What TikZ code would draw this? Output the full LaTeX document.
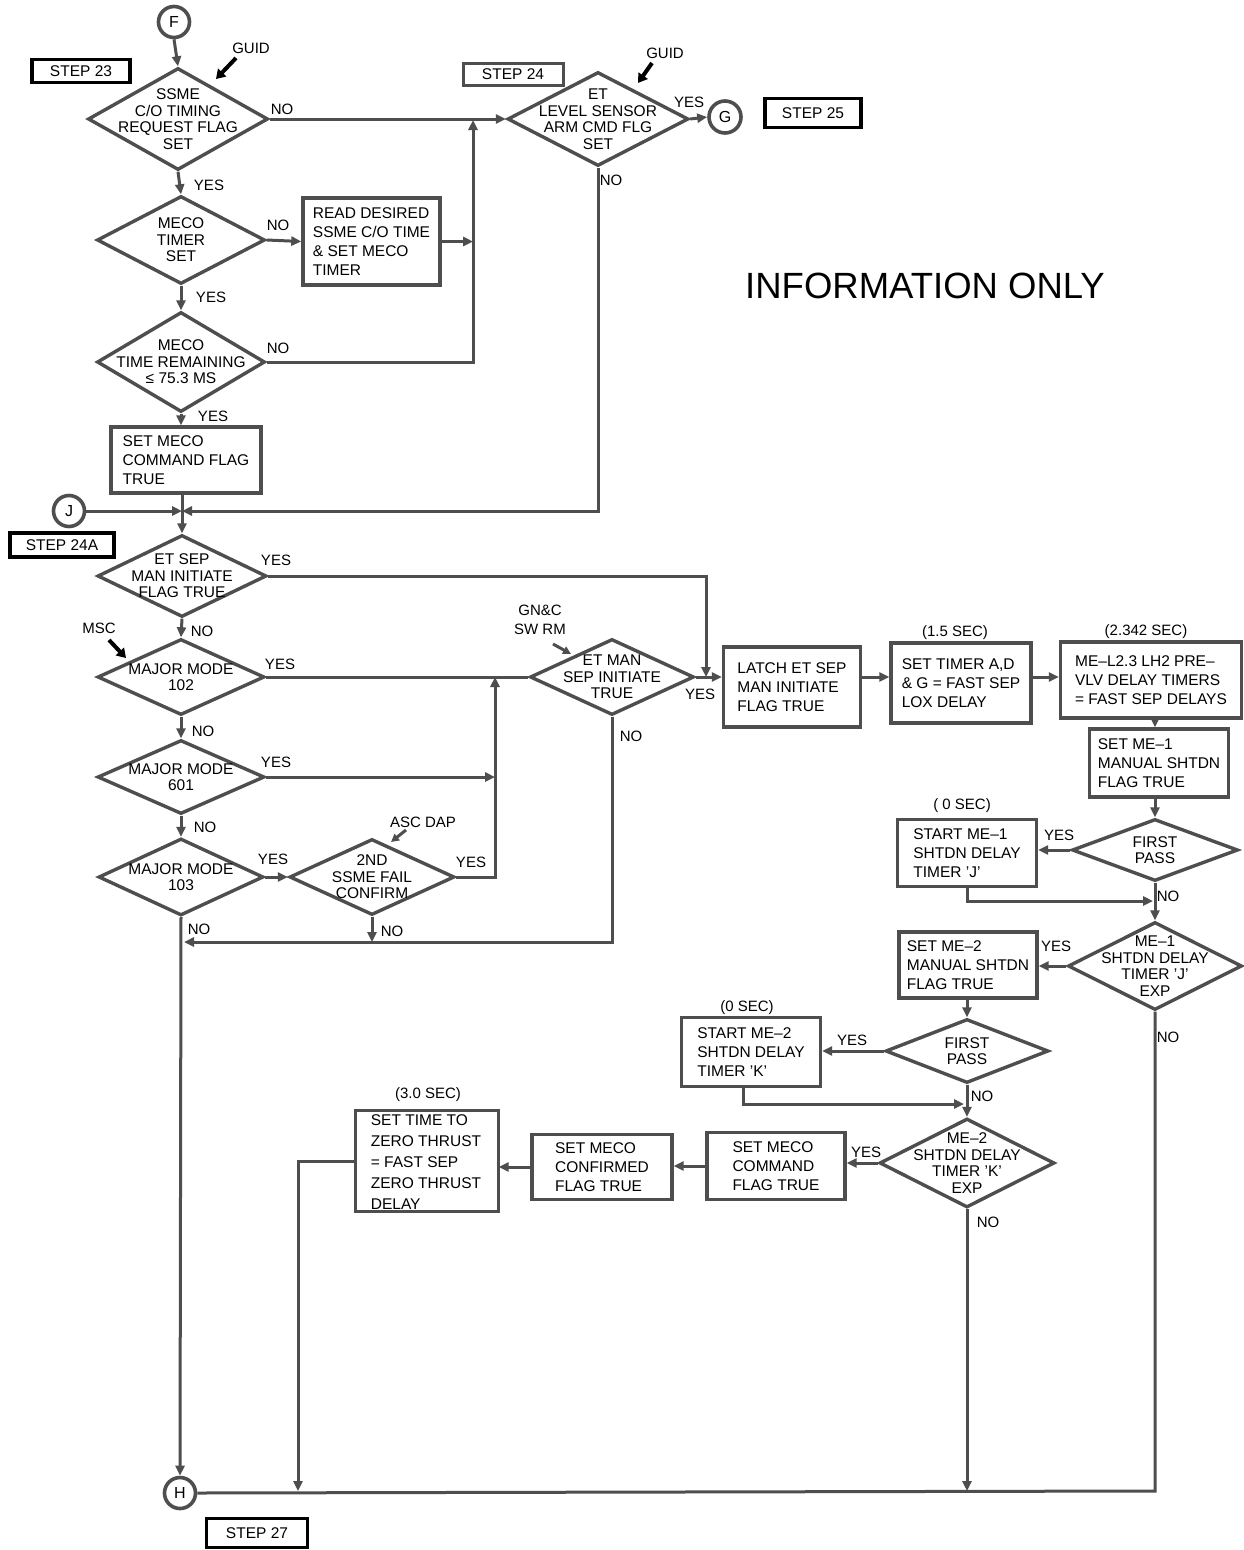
\documentclass[tikz,border=0pt]{standalone}
\usepackage{fontspec}
\setmainfont{Liberation Sans}
\usetikzlibrary{shapes.geometric, arrows.meta}
\definecolor{lc}{RGB}{78,78,78}

\tikzset{
  dia/.style={diamond, draw=lc, line width=3.4pt, fill=white, inner sep=0pt},
  dtxt/.style={align=center, font=\fontsize{15.5}{16.5}\selectfont, inner sep=0pt},
  box/.style={rectangle, draw=lc, line width=3.4pt, fill=white, align=left,
              inner sep=0pt, font=\fontsize{15.5}{19}\selectfont},
  stepbox/.style={rectangle, draw=black, line width=3.6pt, fill=white, inner sep=0pt,
              font=\fontsize{15.5}{18}\selectfont},
  conn/.style={circle, draw=lc, line width=3.6pt, fill=white, minimum size=31pt,
              inner sep=0pt, font=\fontsize{16}{18}\selectfont},
  arr/.style={draw=lc, line width=3pt, -{Triangle[length=10pt,width=9pt]}},
  ln/.style={draw=lc, line width=3pt},
  lab/.style={font=\fontsize{15}{17}\selectfont, inner sep=0pt},
  ptr/.style={draw=black, line width=4pt, -{Triangle[length=9pt,width=11pt]}},
  gptr/.style={draw=lc, line width=3pt, -{Triangle[length=8pt,width=8pt]}},
}

\begin{document}
\begin{tikzpicture}[x=1pt, y=-1pt]
\useasboundingbox (0,0) rectangle (1243,1550);
\fill[white] (0,0) rectangle (1243,1550);

% ---------- step tags and notes ----------
\node[stepbox, minimum width=98pt, minimum height=23pt] (s23) at (81,71) {STEP 23};
\node[stepbox, draw=lc, line width=3pt, minimum width=100pt, minimum height=22pt] (s24) at (513,74) {STEP 24};
\node[stepbox, minimum width=96pt, minimum height=29pt] (s25) at (813,113) {STEP 25};
\node[stepbox, minimum width=104pt, minimum height=24pt] (s24a) at (62,545) {STEP 24A};
\node[stepbox, minimum width=101pt, minimum height=29pt] (s27) at (257,1533) {STEP 27};
\node[font=\fontsize{36.5}{40}\selectfont, inner sep=0pt] (info) at (925,286) {INFORMATION ONLY};

% ---------- connectors (circles) ----------
\node[conn] (F) at (174,22) {F};
\node[conn, minimum size=32pt] (G) at (725,117) {G};
\node[conn] (J) at (69,511) {J};
\node[conn] (H) at (180,1493) {H};

% ---------- left column decisions ----------
\node[dia, minimum width=180pt, minimum height=102pt,
      label={[dtxt]center:SSME\\C/O TIMING\\REQUEST FLAG\\SET}] (d1) at (178,119) {};
\node[dia, minimum width=168pt, minimum height=88pt,
      label={[dtxt]center:MECO\\TIMER\\SET}] (d2) at (181,240) {};
\node[box, minimum width=137pt, minimum height=87pt] (read) at (371.5,241.5)
      {READ DESIRED\\SSME C/O TIME\\\& SET MECO\\TIMER};
\node[dia, minimum width=168pt, minimum height=100pt,
      label={[dtxt]center:MECO\\TIME REMAINING\\≤ 75.3 MS}] (d3) at (181,362) {};
\node[box, minimum width=150pt, minimum height=66pt] (b1) at (186,460)
      {SET MECO\\COMMAND FLAG\\TRUE};
\coordinate (jn) at (182,511);

\node[dia, minimum width=181pt, minimum height=94pt,
      label={[dtxt]center:ET\\LEVEL SENSOR\\ARM CMD FLG\\SET}] (etl) at (598,119) {};

\node[dia, minimum width=169pt, minimum height=82pt,
      label={[dtxt]center:ET SEP\\MAN INITIATE\\FLAG TRUE}] (d4) at (182,576) {};
\node[dia, minimum width=167pt, minimum height=76pt,
      label={[dtxt]center:MAJOR MODE\\102}] (d5) at (181,677) {};
\node[dia, minimum width=167pt, minimum height=74pt,
      label={[dtxt]center:MAJOR MODE\\601}] (d6) at (181,777) {};
\node[dia, minimum width=165pt, minimum height=77pt,
      label={[dtxt]center:MAJOR MODE\\103}] (d7) at (181,877) {};
\node[dia, minimum width=165pt, minimum height=76pt,
      label={[dtxt]center:2ND\\SSME FAIL\\CONFIRM}] (d8) at (372,877) {};
\node[dia, minimum width=164pt, minimum height=76pt,
      label={[dtxt]center:ET MAN\\SEP INITIATE\\TRUE}] (etman) at (612,677) {};

% ---------- right side chain ----------
\node[box, minimum width=137pt, minimum height=80pt] (latch) at (792,687)
      {LATCH ET SEP\\MAN INITIATE\\FLAG TRUE};
\node[box, minimum width=140pt, minimum height=80pt] (settimer) at (961,683)
      {SET TIMER A,D\\\& G = FAST SEP\\LOX DELAY};
\node[box, minimum width=181pt, minimum height=76pt] (mel) at (1151,680)
      {ME--L2.3 LH2 PRE--\\VLV DELAY TIMERS\\= FAST SEP DELAYS};
\node[box, minimum width=139pt, minimum height=68pt] (setme1) at (1159,763)
      {SET ME--1\\MANUAL SHTDN\\FLAG TRUE};
\node[dia, minimum width=166pt, minimum height=62pt,
      label={[dtxt]center:FIRST\\PASS}] (fp1) at (1155,850) {};
\node[box, minimum width=139pt, minimum height=67pt] (start1) at (967,853)
      {START ME--1\\SHTDN DELAY\\TIMER 'J'};
\node[dia, minimum width=174pt, minimum height=88pt,
      label={[dtxt]center:ME--1\\SHTDN DELAY\\TIMER 'J'\\EXP}] (mej) at (1155,966) {};
\node[box, minimum width=138pt, minimum height=66pt] (setme2) at (968,965)
      {SET ME--2\\MANUAL SHTDN\\FLAG TRUE};
\node[dia, minimum width=163pt, minimum height=64pt,
      label={[dtxt]center:FIRST\\PASS}] (fp2) at (967,1051) {};
\node[box, minimum width=139pt, minimum height=69pt] (start2) at (751,1052)
      {START ME--2\\SHTDN DELAY\\TIMER 'K'};
\node[dia, minimum width=175pt, minimum height=89pt,
      label={[dtxt]center:ME--2\\SHTDN DELAY\\TIMER 'K'\\EXP}] (mek) at (967,1163) {};
\node[box, minimum width=138pt, minimum height=67pt] (setmeco) at (776,1166)
      {SET MECO\\COMMAND\\FLAG TRUE};
\node[box, minimum width=140pt, minimum height=65pt] (conf) at (602,1167)
      {SET MECO\\CONFIRMED\\FLAG TRUE};

% zero-thrust box: its text runs past the frame and is cut by it
\node[box, draw=none, minimum width=140pt, minimum height=98pt] (settime) at (427,1161) {};
\begin{scope}
  \clip (settime.south west) rectangle (settime.north east);
  \node[align=left, inner sep=0pt, font=\fontsize{15.5}{20.8}\selectfont] (settimetxt)
    at (426,1162) {SET TIME TO\\ZERO THRUST\\= FAST SEP\\ZERO THRUST\\DELAY};
\end{scope}
\draw[draw=lc, line width=3.4pt] (settime.south west) rectangle (settime.north east);

% timing notes
\node[lab] (t15) at (955,633) {(1.5 SEC)};
\node[lab] (t2342) at (1146,632) {(2.342 SEC)};
\node[lab] (t0a) at (962,806) {( 0 SEC)};
\node[lab] (t0b) at (747,1008) {(0 SEC)};
\node[lab] (t30) at (428,1095) {(3.0 SEC)};

% ---------- junction coordinates ----------
\coordinate (vtop) at (473,120);
\coordinate (lj) at (706,677);
\coordinate (vj) at (495,677);
\coordinate (hl) at (184,942);
\coordinate (col1) at (1155,800);
\coordinate (m1) at (1153,901);
\coordinate (m2) at (964,1104);
\coordinate (hr) at (1155,1491);
\coordinate (st) at (298,1491);

% ---------- flow lines ----------
\draw[arr] (F.south) -- (d1.north);
\draw[arr] (d1.east) -- (etl.west);
\draw[arr] (d1.south) -- (d2.north);
\draw[arr] (d2.east) -- (read.west);
\draw[arr] (read.east) -- (read.east -| vtop);
\draw[arr] (d2.south) -- (d3.north);
\draw[arr] (d3.east) -| (vtop);
\draw[arr] (d3.south) -- (d3.south |- b1.north);
\draw[ln] (jn |- b1.south) -- (jn);
\draw[arr] (J.east) -- (jn);
\draw[arr] (etl.south) |- (jn);
\draw[arr] (etl.east) -- (G.west);
\draw[arr] (jn) -- (d4.north);

\draw[arr] (d4.east) -| (lj);
\draw[arr] (d4.south) -- (d5.north);
\draw[ln] (d5.east) -- (etman.west);
\draw[arr] (d5.south) -- (d6.north);
\draw[arr] (d6.east) -- (d6.east -| vj);
\draw[arr] (d6.south) -- (d7.north);
\draw[arr] (d7.east) -- (d8.west);
\draw[arr] (d8.east) -| (vj);
\draw[arr] (d8.south) -- (d8.south |- hl);
\draw[arr] (etman.south) |- (hl);
\draw[arr] (d7.south) -- (H.north);

\draw[arr] (etman.east) -- (etman.east -| latch.west);
\draw[arr] (lj -| latch.east) -- (lj -| settimer.west);
\draw[arr] (lj -| settimer.east) -- (lj -| mel.west);
\draw[arr] (col1 |- mel.south) -- (col1 |- setme1.north);
\draw[arr] (col1 |- setme1.south) -- (fp1.north);
\draw[arr] (fp1.west) -- (fp1.west -| start1.east);
\draw[arr] (start1.south) |- (m1);
\draw[arr] (fp1.south) -- (mej.north);
\draw[arr] (mej.west) -- (mej.west -| setme2.east);
\draw[ln] (mej.south) -- (hr) -- (H.east);
\draw[arr] (fp2.north |- setme2.south) -- (fp2.north);
\draw[arr] (fp2.west) -- (fp2.west -| start2.east);
\draw[arr] ([xshift=-8pt]start2.south) |- (m2);
\draw[arr] (fp2.south) -- (mek.north);
\draw[arr] (mek.west) -- (mek.west -| setmeco.east);
\draw[arr] (mek.south) -- (mek.south |- hr);
\draw[arr] (setmeco.west) -- (setmeco.west -| conf.east);
\draw[arr] (conf.west) -- (conf.west -| settime.east);
\draw[arr] (settime.west) -| (st);

% ---------- branch labels ----------
\node[lab] (l1n) at (282,109) {NO};
\node[lab] (l1y) at (209,185) {YES};
\node[lab] (l2n) at (278,225) {NO};
\node[lab] (l2y) at (211,297) {YES};
\node[lab] (l3n) at (278,348) {NO};
\node[lab] (l3y) at (213,416) {YES};
\node[lab] (lety) at (689,102) {YES};
\node[lab] (letn) at (611,180) {NO};
\node[lab] (l4y) at (276,560) {YES};
\node[lab] (l4n) at (202,631) {NO};
\node[lab] (l5y) at (280,664) {YES};
\node[lab] (l5n) at (203,731) {NO};
\node[lab] (l6y) at (276,762) {YES};
\node[lab] (l6n) at (205,827) {NO};
\node[lab] (l7y) at (273,859) {YES};
\node[lab] (l7n) at (199,929) {NO};
\node[lab] (l8y) at (471,862) {YES};
\node[lab] (l8n) at (392,931) {NO};
\node[lab] (lemy) at (700,694) {YES};
\node[lab] (lemn) at (631,736) {NO};
\node[lab] (lf1y) at (1059,835) {YES};
\node[lab] (lf1n) at (1168,896) {NO};
\node[lab] (ljy) at (1056,946) {YES};
\node[lab] (ljn) at (1168,1037) {NO};
\node[lab] (lf2y) at (852,1040) {YES};
\node[lab] (lf2n) at (982,1096) {NO};
\node[lab] (lky) at (866,1152) {YES};
\node[lab] (lkn) at (988,1222) {NO};

% ---------- responsibility pointers ----------
\node[lab] (guid1) at (251,48) {GUID};
\coordinate (g1a) at (236,58);
\coordinate (g1b) at (216,79);
\draw[ptr] (g1a) -- (g1b);
\node[lab] (guid2) at (665,53) {GUID};
\coordinate (g2a) at (652,63);
\coordinate (g2b) at (638,83);
\draw[ptr] (g2a) -- (g2b);
\node[lab] (msc) at (99,628) {MSC};
\coordinate (ma) at (109,640);
\coordinate (mb) at (126,658);
\draw[ptr] (ma) -- (mb);
\node[lab, align=center, font=\fontsize{15}{19}\selectfont] (gnc) at (540,620) {GN\&C\\SW RM};
\coordinate (na) at (553,644);
\coordinate (nb) at (571,654);
\draw[gptr] (na) -- (nb);
\node[lab] (asc) at (423,822) {ASC DAP};
\coordinate (aa) at (406,830);
\coordinate (ab) at (391,842);
\draw[gptr] (aa) -- (ab);
\end{tikzpicture}
\end{document}
